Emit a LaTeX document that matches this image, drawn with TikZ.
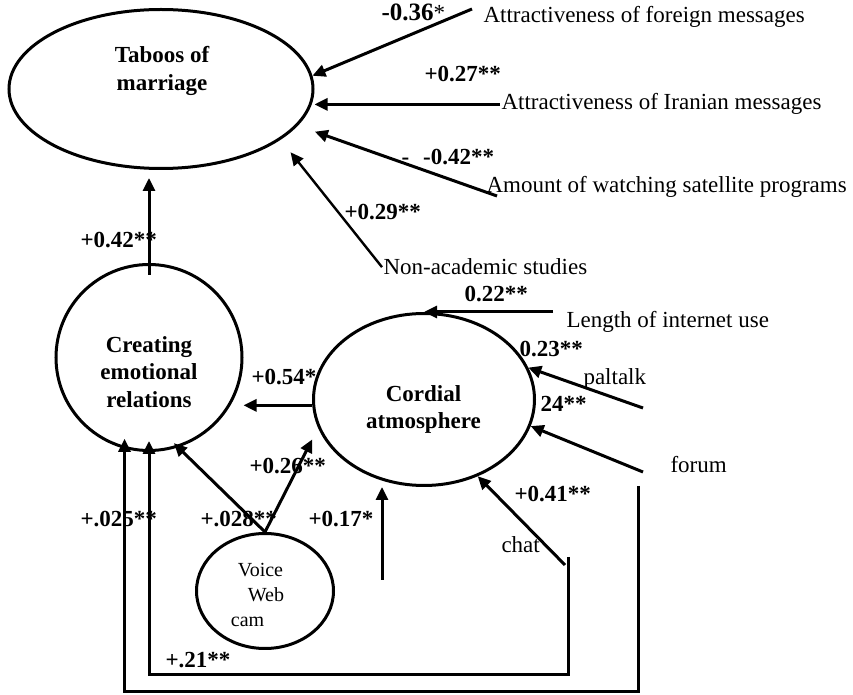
\documentclass[tikz,border=0pt]{standalone}
\usepackage{fontspec}
\setmainfont{Liberation Serif}
\usetikzlibrary{arrows.meta,shapes.geometric}

\begin{document}
\begin{tikzpicture}[x=0.5pt,y=-0.5pt,line width=1.5pt,
	arr/.style={-{Triangle[length=6.5pt,width=6pt]}},
	latent/.style={draw,inner sep=0pt},
	inlabel/.style={align=center,font=\fontsize{11.5}{13.75}\selectfont\bfseries},
	coef/.style={anchor=base west,inner sep=0pt,font=\fontsize{11.5}{13.75}\selectfont\bfseries},
	var/.style={anchor=base west,inner sep=0pt,font=\fontsize{11.5}{13.75}\selectfont}]
	\useasboundingbox (0,0) rectangle (853,695);

	\node[latent,ellipse,minimum width=152pt,minimum height=79.5pt] (taboo) at (161,89) {};
	\node[inlabel] (taboot) at (162,71) {Taboos of\\marriage};
	\node[latent,circle,minimum size=93pt] (creat) at (149,357.5) {};
	\node[inlabel] (creatt) at (149,372) {Creating\\emotional\\relations};
	\node[latent,ellipse,minimum width=110.5pt,minimum height=86pt] (cord) at (424,399.5) {};
	\node[inlabel] (cordt) at (423.5,409.5) {Cordial\\atmosphere};
	\node[latent,ellipse,minimum width=68.5pt,minimum height=57.5pt] (voice) at (265,591) {};
	\node[align=left,font=\fontsize{10}{12.5}\selectfont] (voicet) at (257.5,594.5) {\hspace*{3.5pt}Voice\\\hspace*{8.5pt}Web\\cam};

	\node[var] (foreign) at (482,23) {Attractiveness of foreign messages};
	\node[var] (iranian) at (500,110) {Attractiveness of Iranian messages};
	\node[var] (satel) at (485,193) {Amount of watching satellite programs};
	\node[var] (nonacad) at (382,275) {Non-academic studies};
	\node[var] (length) at (565,328) {Length of internet use};
	\node[var] (paltalk) at (582,385) {paltalk};
	\node[var] (forum) at (669,473) {forum};
	\node[var] (chat) at (500,553) {chat};

	\node[coef] (c1) at (380,21) {{\fontsize{12.5}{15}\selectfont -0.36}{\mdseries *}};
	\node[coef] (c2) at (423,82) {+0.27**};
	\node[coef] (c3) at (400,165) {-\hspace{7pt}-0.42**};
	\node[coef] (c4) at (343,220) {+0.29**};
	\node[coef] (c5) at (79,248) {+0.42**};
	\node[coef] (c6) at (463,302) {0.22**};
	\node[coef] (c7) at (518,357) {0.23**};
	\node[coef] (c8) at (539,412) {24**};
	\node[coef] (c9) at (250,385) {+0.54*};
	\node[coef] (c10) at (248,474) {+0.26**};
	\node[coef] (c11) at (513,502) {+0.41**};
	\node[coef] (c12) at (79,527) {+.025**};
	\node[coef] (c13) at (199,527) {+.028**};
	\node[coef] (c14) at (307,527) {+0.17*};
	\node[coef] (c15) at (164,668) {+.21**};

	\coordinate (fo) at (472,9);
	\coordinate (sa) at (497,196);
	\coordinate (le) at (553,312);
	\coordinate (pa) at (643,408);
	\coordinate (fm) at (643,472);
	\coordinate (ch) at (565,565);
	\coordinate (chdrop) at (568,557);
	\coordinate (fmdrop) at (638,486);
	\coordinate (base) at (382,580);
	\coordinate (low1) at (0,675);
	\coordinate (low2) at (0,692);

	\draw[arr] (fo) -- (taboo.5);
	\draw[arr] (iranian.west) -- (iranian.west -| taboo.east);
	\draw[arr,shorten >=9pt] (sa) -- (taboo.-15);
	\draw[arr,shorten >=8pt,line width=1.2pt] (nonacad.west) -- (taboo.-23);
	\draw[arr,shorten <=-6pt,shorten >=4pt] (creat.north) -- (creat.north |- taboo.south);
	\draw[arr] (cord.183) -- (cord.183 -| creat.east);
	\draw[arr] (le) -- (le -| cord.north);
	\draw[arr] (pa) -- (cord.17);
	\draw[arr] (fm) -- (cord.-14);
	\draw[arr] (ch) -- (cord.-55);
	\draw[arr] (base) -- (base |- cord.south);
	\draw[arr,shorten >=-3pt] (voice.north) -- (creat.-72);
	\draw[arr,shorten >=6.5pt] (voice.north) -- (cord.195);
	\draw[arr,shorten >=-5.5pt] (chdrop) -- (chdrop |- low1) -| (creat.south);
	\draw[arr,shorten >=-5pt] (fmdrop) -- (fmdrop |- low2) -| (creat.-105);
\end{tikzpicture}
\end{document}
